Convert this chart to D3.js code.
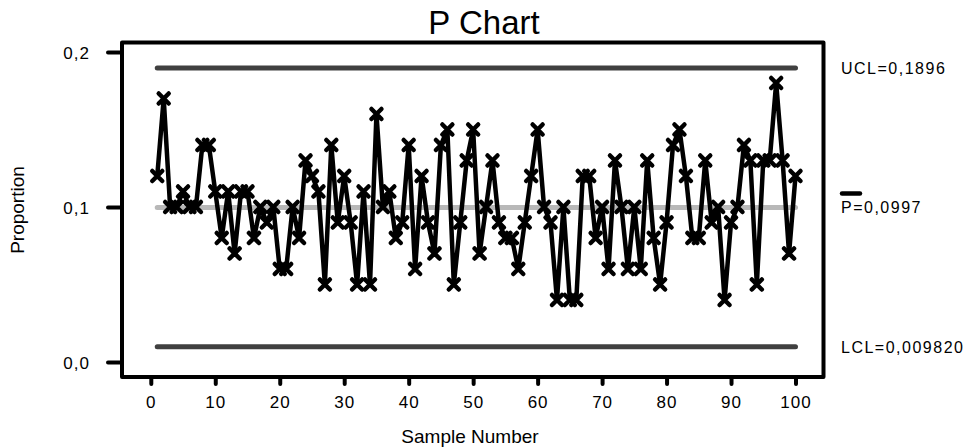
<!DOCTYPE html>
<html>
<head>
<meta charset="utf-8">
<script src="https://cdn.jsdelivr.net/npm/d3@7"></script>
<style>
  body { margin: 0; background: #fff; }
  text { font-family: "Liberation Sans", Arial, sans-serif; fill: #000; }
</style>
</head>
<body>
<svg id="graph" width="976" height="448"></svg>
<script>
/*******************************************************************************************/
// Data

var proportions = [
  0.12, 0.17, 0.10, 0.10, 0.11, 0.10, 0.10, 0.14, 0.14, 0.11,
  0.08, 0.11, 0.07, 0.11, 0.11, 0.08, 0.10, 0.09, 0.10, 0.06,
  0.06, 0.10, 0.08, 0.13, 0.12, 0.11, 0.05, 0.14, 0.09, 0.12,
  0.09, 0.05, 0.11, 0.05, 0.16, 0.10, 0.11, 0.08, 0.09, 0.14,
  0.06, 0.12, 0.09, 0.07, 0.14, 0.15, 0.05, 0.09, 0.13, 0.15,
  0.07, 0.10, 0.13, 0.09, 0.08, 0.08, 0.06, 0.09, 0.12, 0.15,
  0.10, 0.09, 0.04, 0.10, 0.04, 0.04, 0.12, 0.12, 0.08, 0.10,
  0.06, 0.13, 0.10, 0.06, 0.10, 0.06, 0.13, 0.08, 0.05, 0.09,
  0.14, 0.15, 0.12, 0.08, 0.08, 0.13, 0.09, 0.10, 0.04, 0.09,
  0.10, 0.14, 0.13, 0.05, 0.13, 0.13, 0.18, 0.13, 0.07, 0.12
];
var limitNames  = ['UCL', 'P', 'LCL'];
var limitValues = [0.1896, 0.0997, 0.009820];
var limitLabels = ['UCL=0,1896', 'P=0,0997', 'LCL=0,009820'];
var xTicks = [0, 10, 20, 30, 40, 50, 60, 70, 80, 90, 100];
var yTicks = [0, 0.1, 0.2];

/*******************************************************************************************/
// Graph

var svg = d3.select('#graph');
var xScale = d3.scaleLinear().domain([0, 100]).range([150.8, 795.5]);
var yScale = d3.scaleLinear().domain([0, 0.2]).range([362, 52]);
var fmt = function(d){ return d3.format('.1f')(d).replace('.', ','); };

// frame
svg.append('rect').attr('x', 122).attr('y', 42.5).attr('width', 701.5).attr('height', 334.5)
   .style('fill', 'none').style('stroke', '#000').style('stroke-width', 4).style('stroke-linejoin', 'round');

// axes
var xAxis = svg.append('g').attr('transform', 'translate(0,377)')
   .call(d3.axisBottom(xScale).tickValues(xTicks).tickSize(7).tickPadding(12).tickFormat(d3.format('d')));
var yAxis = svg.append('g').attr('transform', 'translate(122,0)')
   .call(d3.axisLeft(yScale).tickValues(yTicks).tickSize(14).tickPadding(18).tickFormat(fmt));
[xAxis, yAxis].forEach(function(a){
  a.select('.domain').remove();
  a.selectAll('line').style('stroke', '#000').style('stroke-width', 4).style('stroke-linecap', 'round');
  a.selectAll('text').style('font-family', '"Liberation Sans", Arial, sans-serif')
   .style('font-size', '17px').style('letter-spacing', '1px').style('fill', '#000');
});
yAxis.selectAll('text').attr('dy', '0.36em');

// control lines
var limitColors = ['#404040', '#b8b8b8', '#404040'];
limitValues.forEach(function(v, i){
  svg.append('line').attr('class', 'limit_' + limitNames[i])
     .attr('x1', xScale(1)).attr('x2', xScale(proportions.length))
     .attr('y1', yScale(v)).attr('y2', yScale(v))
     .style('stroke', limitColors[i]).style('stroke-width', 5).style('stroke-linecap', 'round');
});

// data line + markers
var lineGen = d3.line().x(function(d, i){ return xScale(i + 1); }).y(function(d){ return yScale(d); });
svg.append('path').datum(proportions).attr('d', lineGen)
   .style('fill', 'none').style('stroke', '#000').style('stroke-width', 4.5).style('stroke-linejoin', 'round');

svg.append('g').selectAll('path').data(proportions).enter().append('path')
   .attr('transform', function(d, i){ return 'translate(' + xScale(i + 1) + ',' + yScale(d) + ')'; })
   .attr('d', 'M-5,-5L5,5M-5,5L5,-5')
   .style('stroke', '#000').style('stroke-width', 4.5).style('stroke-linecap', 'round');

// limit labels on the right
limitValues.forEach(function(v, i){
  svg.append('text').attr('x', 841).attr('y', yScale(v)).attr('dy', '0.36em')
     .style('font-size', '16px').style('letter-spacing', '1.5px').text(limitLabels[i]);
});
svg.append('line').attr('x1', 842).attr('x2', 860).attr('y1', yScale(limitValues[1]) - 14).attr('y2', yScale(limitValues[1]) - 14)
   .style('stroke', '#000').style('stroke-width', 4.5).style('stroke-linecap', 'round');

// titles
svg.append('text').attr('x', 484).attr('y', 34).attr('text-anchor', 'middle')
   .style('font-size', '33px').text('P Chart');
svg.append('text').attr('x', 470).attr('y', 443).attr('text-anchor', 'middle')
   .style('font-size', '19px').text('Sample Number');
svg.append('text').attr('transform', 'translate(24,210) rotate(-90)').attr('text-anchor', 'middle')
   .style('font-size', '19px').text('Proportion');
</script>
</body>
</html>
